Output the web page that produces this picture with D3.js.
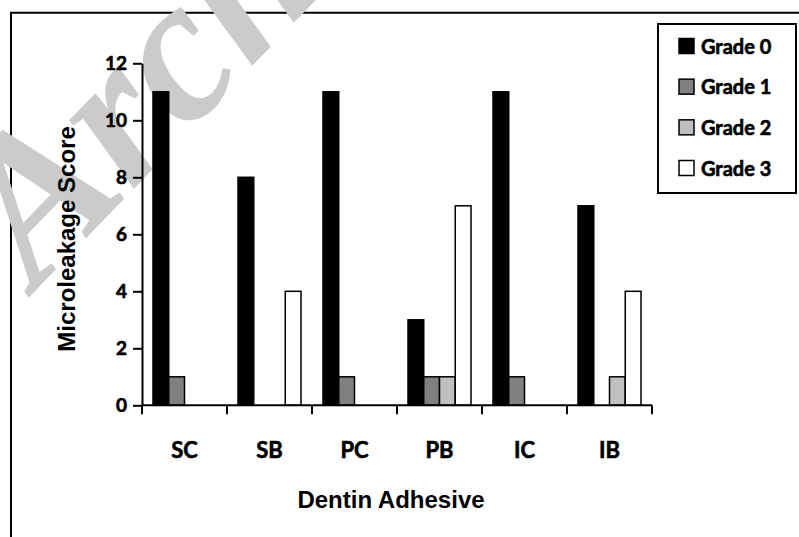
<!DOCTYPE html>
<html>
<head>
<meta charset="utf-8">
<script src="https://cdn.jsdelivr.net/npm/d3@7"></script>
<style>
  body { margin: 0; background: #fff; }
  svg { display: block; }
  .lbl { font-family: Lato, "Open Sans", sans-serif; font-weight: bold; stroke: #000; stroke-width: 0.6px; fill: #000; }
</style>
</head>
<body>
<svg id="chart" width="799" height="537"></svg>
<script>
// data
const categories = ['SC', 'SB', 'PC', 'PB', 'IC', 'IB'];
const grades = ['Grade 0', 'Grade 1', 'Grade 2', 'Grade 3'];
const grade0 = [11, 8, 11, 3, 11, 7];
const grade1 = [1, 0, 1, 1, 1, 0];
const grade2 = [0, 0, 0, 1, 0, 1];
const grade3 = [0, 4, 0, 7, 0, 4];
const yTicks = [0, 2, 4, 6, 8, 10, 12];

const series = [grade0, grade1, grade2, grade3];
const colors = ['#000000', '#808080', '#c0c0c0', '#ffffff'];

const svg = d3.select('#chart');
const width = 799, height = 537;
const plot = { left: 142, right: 652, top: 63.3, bottom: 405.3 };
const titleFont = '"Liberation Sans", Arial, sans-serif';

// outer frame (top and left edges only visible)
svg.append('path')
  .attr('d', `M11,537 V12.7 H${width}`)
  .attr('fill', 'none')
  .attr('stroke', '#000')
  .attr('stroke-width', 2);

// watermark, sits over the frame like in the scan
svg.append('text')
  .attr('transform', 'translate(36,290) rotate(-46)')
  .attr('font-family', '"Liberation Serif", serif')
  .attr('font-style', 'italic')
  .attr('font-weight', 'bold')
  .attr('font-size', 205)
  .attr('fill', '#cbcbcb')
  .text('Archive');

const x0 = d3.scaleBand()
  .domain(categories)
  .range([plot.left, plot.right])
  .paddingInner(22 / 85)
  .paddingOuter(11 / 85);

const x1 = d3.scaleBand()
  .domain(grades)
  .range([0, x0.bandwidth()]);

const y = d3.scaleLinear()
  .domain([0, 12])
  .range([plot.bottom, plot.top]);

// bars
const rows = [];
categories.forEach((c, i) => {
  grades.forEach((g, j) => {
    if (series[j][i] > 0) rows.push({ cat: c, grade: g, value: series[j][i], color: colors[j] });
  });
});

svg.append('g')
  .selectAll('rect')
  .data(rows)
  .join('rect')
  .attr('x', d => x0(d.cat) + x1(d.grade))
  .attr('y', d => y(d.value))
  .attr('width', x1.bandwidth())
  .attr('height', d => y(0) - y(d.value))
  .attr('fill', d => d.color)
  .attr('stroke', '#000')
  .attr('stroke-width', 1.5);

// y axis
const yAxis = svg.append('g')
  .attr('transform', `translate(${plot.left},0)`)
  .call(d3.axisLeft(y).tickValues(yTicks).tickSize(9).tickSizeOuter(0).tickPadding(6));
yAxis.attr('font-family', null).attr('font-size', null);
yAxis.select('.domain').attr('stroke-width', 2);
yAxis.selectAll('.tick line').attr('stroke-width', 2);
yAxis.selectAll('.tick text')
  .attr('class', 'lbl')
  .style('font-size', '19px');

// x axis line with boundary ticks
const step = x0.step();
const boundaries = categories.map(c => x0(c) - step * x0.paddingInner() / 2)
  .concat([plot.right]);

svg.append('line')
  .attr('x1', plot.left).attr('x2', plot.right)
  .attr('y1', y(0)).attr('y2', y(0))
  .attr('stroke', '#000').attr('stroke-width', 2);

svg.append('g')
  .selectAll('line')
  .data(boundaries)
  .join('line')
  .attr('x1', d => d).attr('x2', d => d)
  .attr('y1', y(0)).attr('y2', y(0) + 9)
  .attr('stroke', '#000').attr('stroke-width', 2);

svg.append('g')
  .selectAll('text')
  .data(categories)
  .join('text')
  .attr('class', 'lbl')
  .attr('x', d => x0(d) + x0.bandwidth() / 2)
  .attr('y', 457.5)
  .attr('text-anchor', 'middle')
  .style('font-size', '22px')
  .text(d => d);

// axis titles
svg.append('text')
  .attr('x', 391)
  .attr('y', 508)
  .attr('text-anchor', 'middle')
  .attr('font-family', titleFont)
  .attr('font-weight', 'bold')
  .attr('font-size', 24)
  .text('Dentin Adhesive');

svg.append('text')
  .attr('transform', 'translate(75,239) rotate(-90)')
  .attr('text-anchor', 'middle')
  .attr('font-family', titleFont)
  .attr('font-weight', 'bold')
  .attr('font-size', 24)
  .text('Microleakage Score');

// legend
const legend = svg.append('g');
legend.append('rect')
  .attr('x', 658).attr('y', 24)
  .attr('width', 138).attr('height', 169)
  .attr('fill', '#fff')
  .attr('stroke', '#000')
  .attr('stroke-width', 2);

const ly = d3.scalePoint().domain(grades).range([46, 168]);

const items = legend.selectAll('g.item')
  .data(grades)
  .join('g')
  .attr('class', 'item')
  .attr('transform', d => `translate(679,${ly(d)})`);

items.append('rect')
  .attr('x', 0).attr('y', -7.5)
  .attr('width', 15).attr('height', 15)
  .attr('fill', (d, i) => colors[i])
  .attr('stroke', '#000')
  .attr('stroke-width', 1.5);

items.append('text')
  .attr('class', 'lbl')
  .attr('x', 22)
  .attr('y', 7.5)
  .style('font-size', '20px')
  .text(d => d);
</script>
</body>
</html>
